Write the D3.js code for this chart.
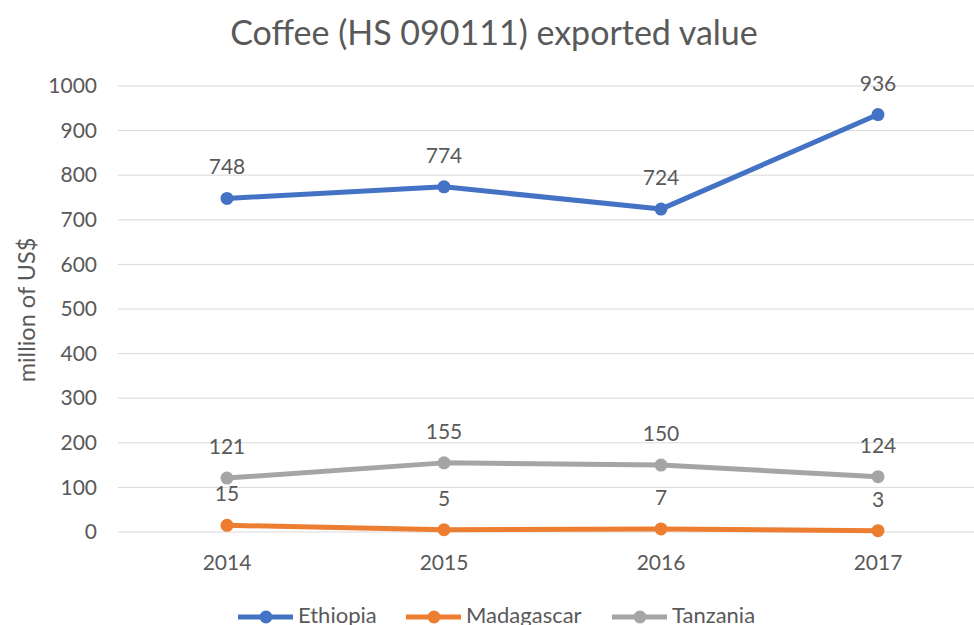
<!DOCTYPE html>
<html>
<head>
<meta charset="utf-8">
<script src="https://cdn.jsdelivr.net/npm/d3@7"></script>
<style>
  body { margin: 0; background: #fff; }
  svg text { font-family: Lato, "Open Sans", sans-serif; fill: #595959; }
</style>
</head>
<body>
<div id="chart"></div>
<script>
const years = ['2014', '2015', '2016', '2017'];
const ethiopia = [748, 774, 724, 936];
const madagascar = [15, 5, 7, 3];
const tanzania = [121, 155, 150, 124];
const yTicks = [0, 100, 200, 300, 400, 500, 600, 700, 800, 900, 1000];

const series = [
  { name: 'Ethiopia', values: ethiopia, color: '#4472C4' },
  { name: 'Madagascar', values: madagascar, color: '#ED7D31' },
  { name: 'Tanzania', values: tanzania, color: '#A5A5A5' }
];

const w = 974;
const h = 625;

const svg = d3.select('#chart')
  .append('svg')
  .attr('width', w)
  .attr('height', h);

// escalas
const x = d3.scaleBand()
  .domain(years)
  .range([118.5, 986.5]);

const y = d3.scaleLinear()
  .domain([0, 1000])
  .range([532, 86]);

// titulo
svg.append('text')
  .attr('x', 494)
  .attr('y', 45)
  .style('text-anchor', 'middle')
  .style('font-size', '34px')
  .text('Coffee (HS 090111) exported value');

// grid
svg.append('g')
  .selectAll('line')
  .data(yTicks)
  .enter()
  .append('line')
  .attr('x1', 118)
  .attr('x2', w)
  .attr('y1', d => y(d))
  .attr('y2', d => y(d))
  .style('stroke', '#D9D9D9')
  .style('stroke-width', 1);

// eje y
const yAxis = svg.append('g')
  .attr('transform', 'translate(118,0)')
  .call(d3.axisLeft(y).tickValues(yTicks).tickFormat(d3.format('d')).tickSize(0).tickPadding(21));
yAxis.select('.domain').remove();
yAxis.selectAll('text')
  .style('font-size', '21px')
  .style('fill', '#595959');

// eje x
const xAxis = svg.append('g')
  .attr('transform', 'translate(0,532)')
  .call(d3.axisBottom(x).tickSize(0).tickPadding(23));
xAxis.select('.domain').remove();
xAxis.selectAll('text')
  .style('font-size', '21px')
  .style('fill', '#595959');

svg.append('text')
  .attr('transform', 'rotate(-90)')
  .attr('x', -310)
  .attr('y', 35)
  .style('text-anchor', 'middle')
  .style('font-size', '23.5px')
  .text('million of US$');

const cx = d => x(d) + x.bandwidth() / 2;

const line = d3.line()
  .x((d, i) => cx(years[i]))
  .y(d => y(d));

series.forEach(s => {
  svg.append('path')
    .datum(s.values)
    .attr('d', line)
    .style('fill', 'none')
    .style('stroke', s.color)
    .style('stroke-width', 5)
    .style('stroke-linejoin', 'round');

  svg.selectAll(null)
    .data(s.values)
    .enter()
    .append('circle')
    .attr('cx', (d, i) => cx(years[i]))
    .attr('cy', d => y(d))
    .attr('r', 6.5)
    .style('fill', s.color);

  svg.selectAll(null)
    .data(s.values)
    .enter()
    .append('text')
    .attr('x', (d, i) => cx(years[i]))
    .attr('y', d => y(d) - 24)
    .style('text-anchor', 'middle')
    .style('font-size', '21px')
    .text(d => d);
});

// leyenda (recortada abajo como en el original)
const legendX = [238, 406, 612];
const legend = svg.append('g')
  .selectAll('g')
  .data(series)
  .enter()
  .append('g')
  .attr('transform', (d, i) => `translate(${legendX[i]},617)`);

legend.append('line')
  .attr('x1', 0)
  .attr('x2', 55)
  .style('stroke', d => d.color)
  .style('stroke-width', 5);
legend.append('circle')
  .attr('cx', 28)
  .attr('r', 6.5)
  .style('fill', d => d.color);
legend.append('text')
  .attr('x', 60)
  .attr('y', 6)
  .style('font-size', '22px')
  .text(d => d.name);
</script>
</body>
</html>
